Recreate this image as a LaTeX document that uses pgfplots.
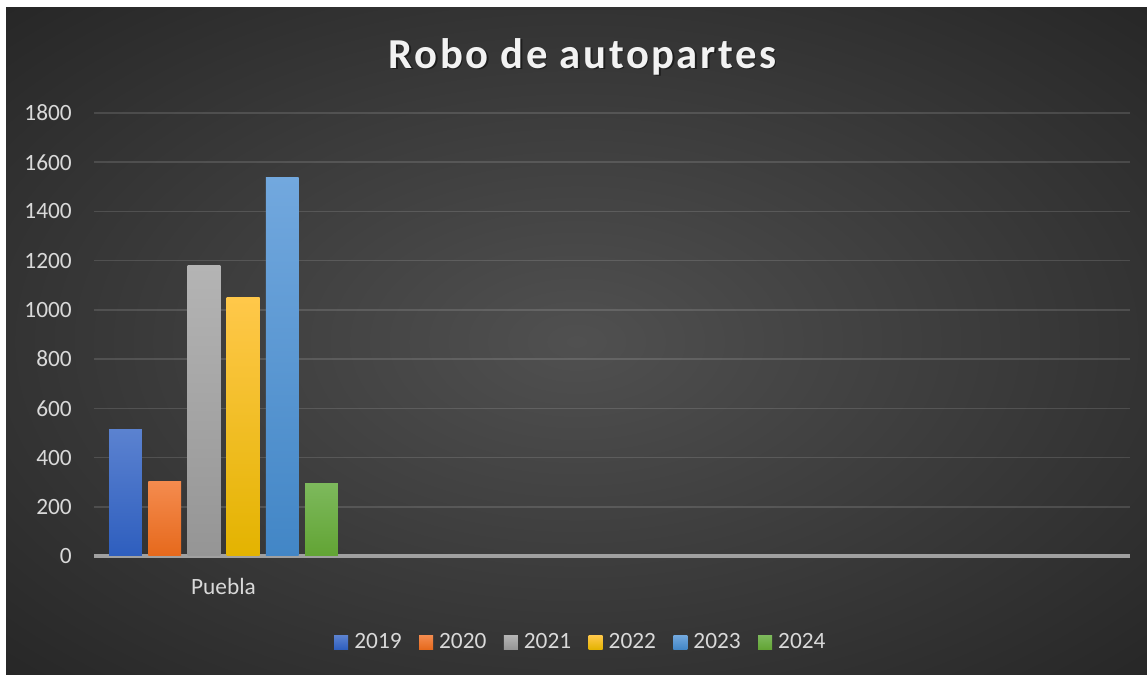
\documentclass[border=0pt]{standalone}
\usepackage{fontspec}
\setmainfont{Carlito}
\newfontfamily\titlefont{Carlito}[LetterSpace=6]
\usepackage{pgfplots}
\pgfplotsset{compat=1.18}
\definecolor{bgin}{HTML}{505050}
\definecolor{bgout}{HTML}{272727}
\definecolor{tickc}{HTML}{D9D9D9}
\definecolor{basec}{HTML}{A0A0A0}
\definecolor{aT}{HTML}{5B82D0}\definecolor{aB}{HTML}{2E5EBE}
\definecolor{bT}{HTML}{F48B4E}\definecolor{bB}{HTML}{E6691C}
\definecolor{cT}{HTML}{B4B4B4}\definecolor{cB}{HTML}{959595}
\definecolor{dT}{HTML}{FFC84A}\definecolor{dB}{HTML}{E3B300}
\definecolor{eT}{HTML}{72A8DE}\definecolor{eB}{HTML}{4286C6}
\definecolor{fT}{HTML}{7DB95C}\definecolor{fB}{HTML}{62A434}
\pgfdeclareradialshading{bgshade}{\pgfpoint{0bp}{0bp}}{color(0bp)=(bgin); color(35.4bp)=(bgout); color(50bp)=(bgout)}
\begin{document}
\begin{tikzpicture}
\begin{scope}[x=0.75pt,y=0.75pt]
\useasboundingbox (0,0) rectangle (1147,675);
\fill[white] (0,0) rectangle (1147,675);
\shade[shading=bgshade] (6,0) rectangle (1147,667);
\node[anchor=base, inner sep=0pt, text=black, opacity=0.45, font=\titlefont\bfseries\fontsize{32}{38}\selectfont] at (584,605) {Robo de autopartes};
\node[anchor=base, inner sep=0pt, text={rgb,255:red,242;green,242;blue,242}, font=\titlefont\bfseries\fontsize{32}{38}\selectfont] at (582.5,606.7) {Robo de autopartes};
\end{scope}
\begin{axis}[
  at={(70.5pt,89.25pt)}, anchor=south west,
  scale only axis, width=777pt, height=332.25pt,
  xmin=-0.5, xmax=3.5, ymin=0, ymax=1800,
  enlargelimits=false,
  ybar=4.8pt, bar width=24.6pt,
  axis x line*=bottom, axis y line*=left,
  x axis line style={draw=basec, line width=2.4pt, -},
  y axis line style={draw=none},
  xtick={0}, xticklabels={Puebla},
  ytick={0,200,...,1800},
  major tick length=0pt,
  xtick style={draw=none}, ytick style={draw=none},
  ymajorgrids,
  grid style={draw=white, opacity=0.13, line width=1.1pt},
  tick label style={text=tickc, font=\fontsize{17.5}{21}\selectfont},
  /pgf/number format/assume math mode=true,
  /pgf/number format/1000 sep={},
  yticklabel style={anchor=east, inner sep=0pt, xshift=-16.5pt},
  xticklabel style={anchor=base, inner sep=0pt, yshift=-29.25pt},
  legend columns=6,
  legend image code/.code={\fill[#1] (0pt,-5.25pt) rectangle (10.5pt,5.25pt);},
  legend style={at={(0.469,-0.195)}, anchor=center, draw=none, fill=none,
    text=tickc, font=\fontsize{17.5}{21}\selectfont,
    nodes={inner sep=0pt},
    /tikz/every odd column/.append style={column sep=4.6pt},
    /tikz/every even column/.append style={column sep=13.0pt}},
]
\addplot[draw=none, top color=aT, bottom color=aB] coordinates {(0,514)};
\addplot[draw=none, top color=bT, bottom color=bB] coordinates {(0,303)};
\addplot[draw=none, top color=cT, bottom color=cB] coordinates {(0,1180)};
\addplot[draw=none, top color=dT, bottom color=dB] coordinates {(0,1050)};
\addplot[draw=none, top color=eT, bottom color=eB] coordinates {(0,1537)};
\addplot[draw=none, top color=fT, bottom color=fB] coordinates {(0,295)};
\legend{2019,2020,2021,2022,2023,2024}
\end{axis}
\end{tikzpicture}
\end{document}
